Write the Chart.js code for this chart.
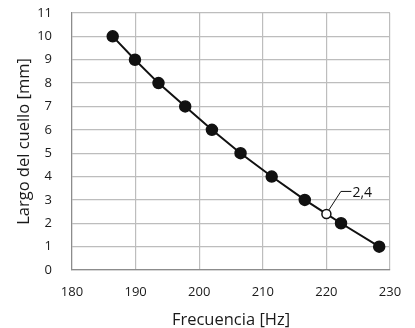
<!DOCTYPE html>
<html>
<head>
<meta charset="utf-8">
<script src="https://cdn.jsdelivr.net/npm/chart.js@4.4.1/dist/chart.umd.min.js"></script>
<style>
  html, body { margin: 0; padding: 0; background: #fff; }
  #wrap { width: 415px; height: 328px; }
</style>
</head>
<body>
<div id="wrap"><canvas id="curva" width="415" height="328"></canvas></div>
<script>
// frecuencia (Hz) vs largo del cuello (mm)
var frecuencia = [186.4, 189.9, 193.6, 197.8, 202.0, 206.5, 211.4, 216.6, 220.0, 222.3, 228.3];
var largo = [10, 9, 8, 7, 6, 5, 4, 3, 2.4, 2, 1];
var marcado = [false, false, false, false, false, false, false, false, true, false, false];
var etiquetaMarcada = "2,4";

var xMin = 180, xMax = 230, xStep = 10;
var yMin = 0, yMax = 11, yStep = 1;

var puntos = frecuencia.map(function (f, i) { return { x: f, y: largo[i] }; });

var fuente = "'Open Sans', sans-serif";

// leader line + label for the open point
var etiquetaPlugin = {
  id: 'etiqueta',
  afterDatasetsDraw: function (chart) {
    var meta = chart.getDatasetMeta(0);
    var ctx = chart.ctx;
    marcado.forEach(function (m, i) {
      if (!m) return;
      var p = meta.data[i];
      ctx.save();
      ctx.strokeStyle = '#111';
      ctx.lineWidth = 1;
      ctx.beginPath();
      ctx.moveTo(p.x + 2.5, p.y - 4);
      ctx.lineTo(p.x + 14.5, p.y - 22.5);
      ctx.lineTo(p.x + 25, p.y - 22.5);
      ctx.stroke();
      ctx.fillStyle = '#111';
      ctx.font = '14px ' + fuente;
      ctx.textBaseline = 'middle';
      ctx.textAlign = 'left';
      ctx.fillText(etiquetaMarcada, p.x + 26, p.y - 21);
      ctx.restore();
    });
  }
};

new Chart(document.getElementById('curva').getContext('2d'), {
  type: 'scatter',
  data: {
    datasets: [{
      data: puntos,
      showLine: true,
      borderColor: '#111',
      borderWidth: 2,
      pointHoverRadius: 5,
      pointBorderWidth: 1.5,
      pointBorderColor: '#111',
      pointBackgroundColor: marcado.map(function (m) { return m ? '#fff' : '#111'; }),
      pointRadius: marcado.map(function (m) { return m ? 4.5 : 5.5; })
    }]
  },
  options: {
    responsive: false,
    animation: false,
    layout: { padding: { top: 13, right: 25, left: 0, bottom: 0 } },
    plugins: {
      legend: { display: false },
      tooltip: { enabled: false }
    },
    scales: {
      x: {
        type: 'linear',
        min: xMin, max: xMax,
        afterFit: function (s) { s.height = 58; s.paddingLeft = 0; s.paddingRight = 0; },
        ticks: { stepSize: xStep, padding: 14, color: '#1a1a1a', font: { family: fuente, size: 13 } },
        grid: { color: '#bdbdbd', drawTicks: false, lineWidth: 1.2 },
        border: { color: '#8c8c8c', width: 1.2 },
        title: {
          display: true, text: 'Frecuencia [Hz]', color: '#1a1a1a',
          font: { family: fuente, size: 16.5 }, padding: { top: 0, bottom: -2 }
        }
      },
      y: {
        type: 'linear',
        min: yMin, max: yMax,
        afterFit: function (s) { s.width = 72; s.paddingTop = 0; s.paddingBottom = 0; },
        ticks: { stepSize: yStep, padding: 20, color: '#1a1a1a', font: { family: fuente, size: 13 } },
        grid: { color: '#bdbdbd', drawTicks: false, lineWidth: 1.2 },
        border: { color: '#8c8c8c', width: 1.2 },
        title: {
          display: true, text: 'Largo del cuello [mm]', color: '#1a1a1a',
          font: { family: fuente, size: 16.5 }, padding: { top: 14, bottom: 0 }
        }
      }
    }
  },
  plugins: [etiquetaPlugin]
});
</script>
</body>
</html>
